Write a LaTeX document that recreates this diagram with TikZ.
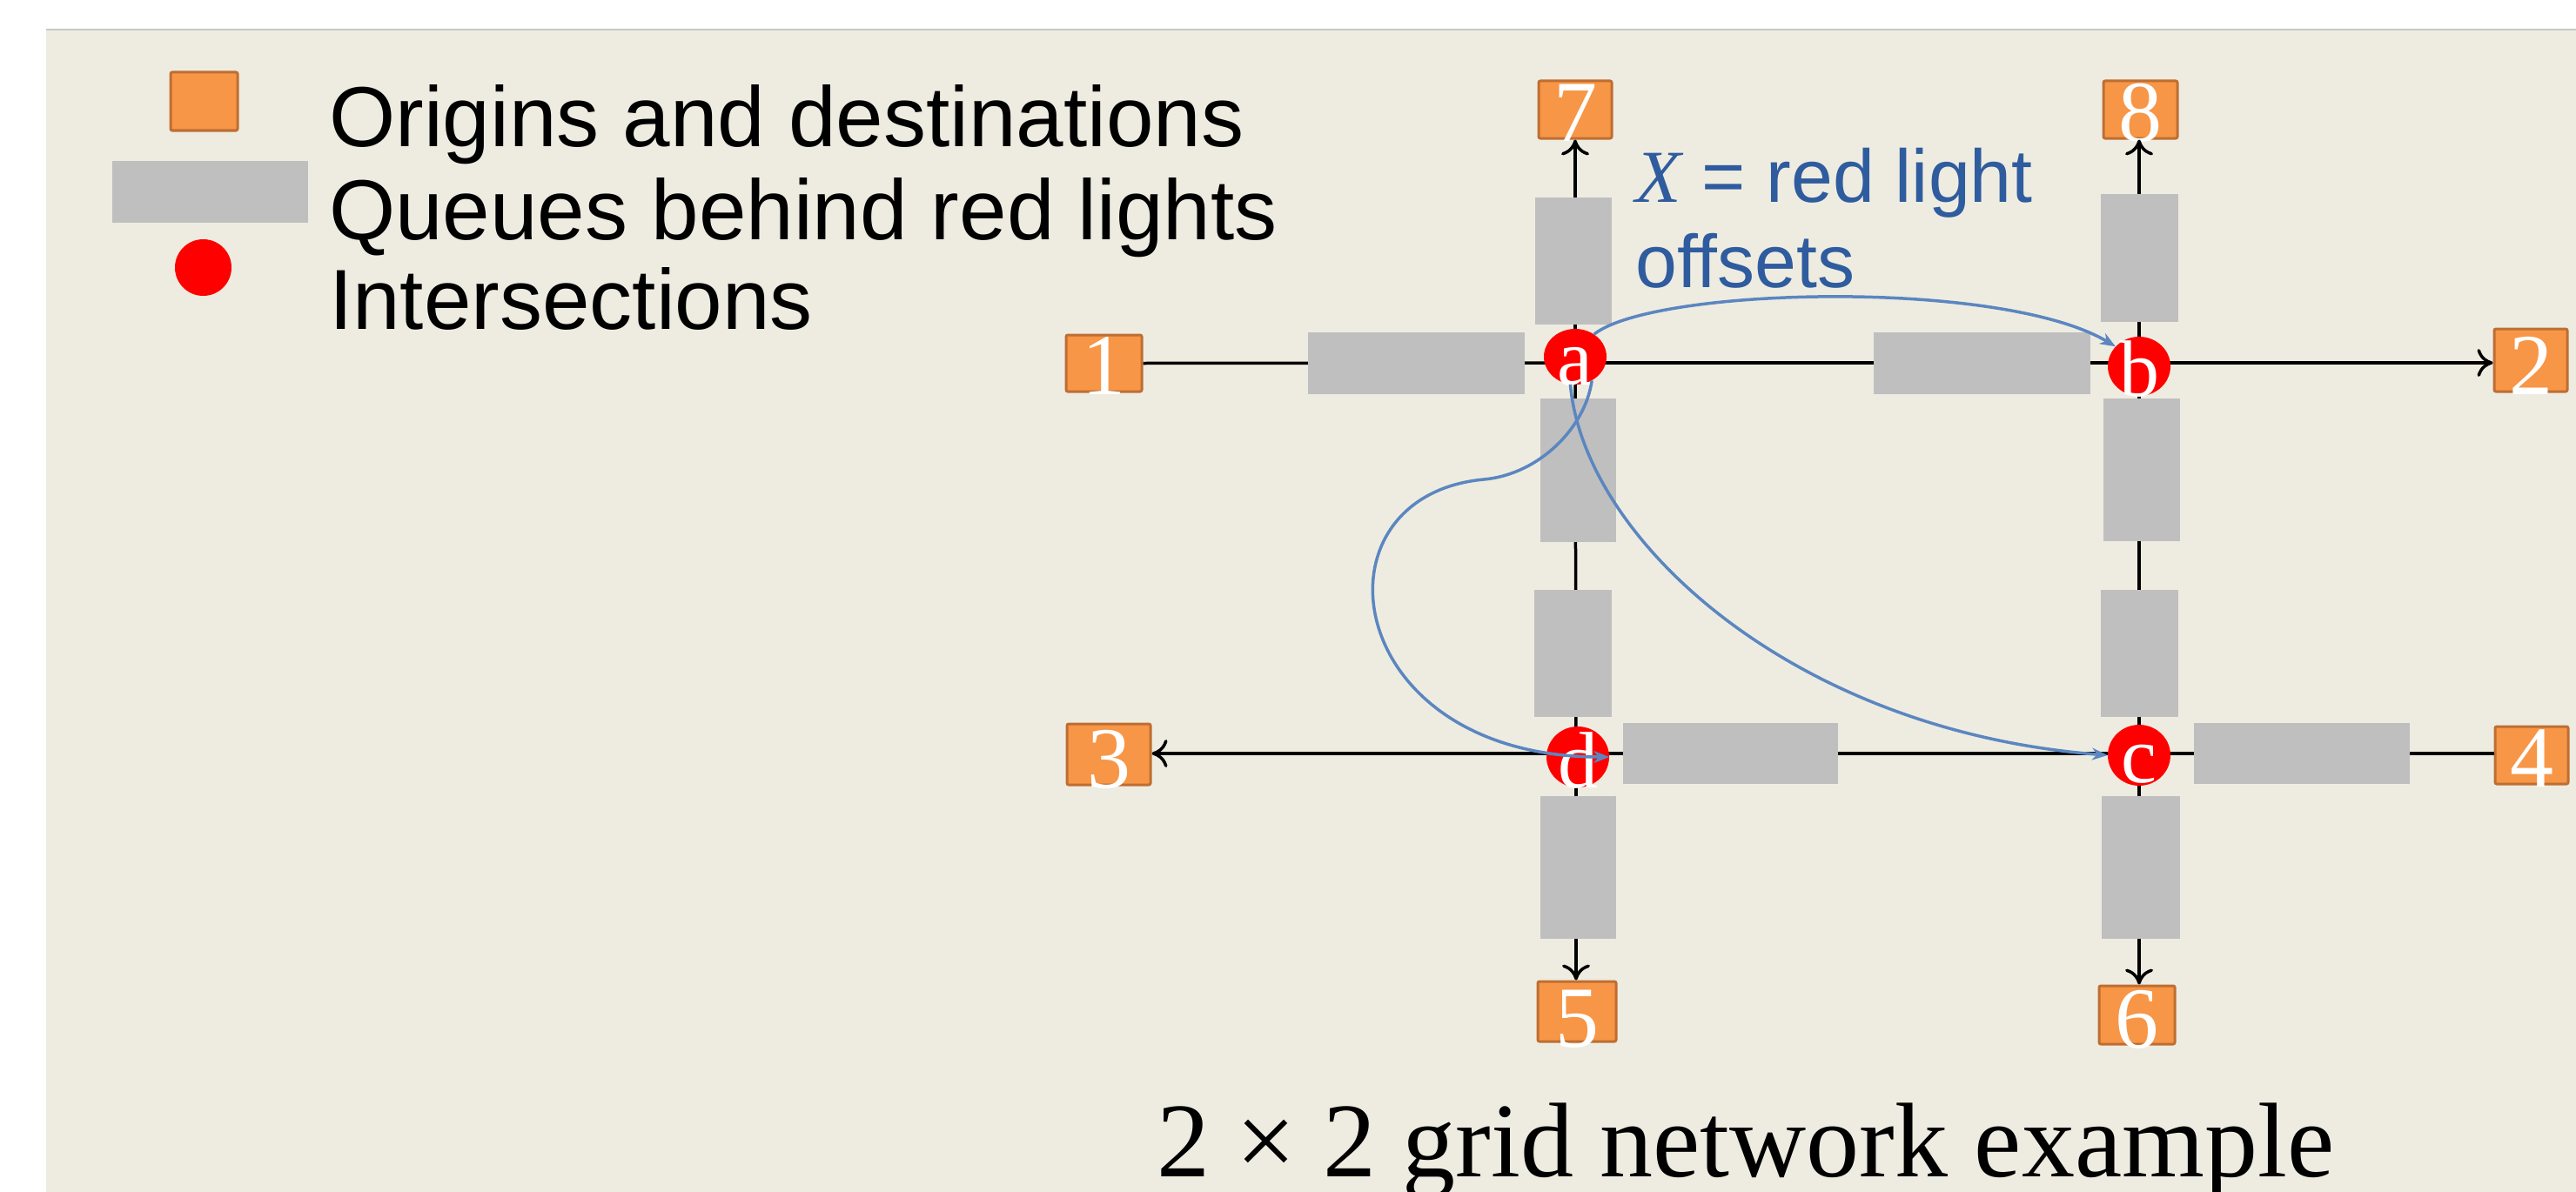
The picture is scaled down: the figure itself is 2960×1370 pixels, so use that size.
\documentclass[tikz,border=0pt]{standalone}
\usepackage{fontspec}
\setmainfont{Liberation Serif}
\newfontfamily\arialf{Liberation Sans}
\usetikzlibrary{shapes.geometric,arrows.meta}
\definecolor{bgbeige}{RGB}{238,236,225}
\definecolor{odorange}{RGB}{247,150,70}
\definecolor{odborder}{RGB}{190,110,50}
\definecolor{queuegray}{RGB}{191,191,191}
\definecolor{isred}{RGB}{255,0,0}
\definecolor{offblue}{RGB}{47,92,158}
\definecolor{curveblue}{RGB}{91,134,192}
\begin{document}
\begin{tikzpicture}[x=1pt,y=-1pt,
  odbox/.style={draw=odborder,fill=odorange,line width=3pt,rounded corners=2pt,inner sep=0pt},
  numlbl/.style={text=white,inner sep=0pt,anchor=base,font=\fontsize{100}{100}\selectfont},
  letlbl/.style={text=white,inner sep=0pt,anchor=base,font=\fontsize{92}{92}\selectfont},
  queue/.style={fill=queuegray,draw=none,inner sep=0pt,rectangle},
  isect/.style={ellipse,fill=isred,draw=none,inner sep=0pt},
  road/.style={draw=black,line width=3.5pt},
  roadarrow/.style={road,-{To[length=18pt,width=32pt,line width=3.5pt]}},
  offs/.style={draw=curveblue,line width=3.5pt,-{Stealth[length=18pt,width=14pt]}},
  legtext/.style={anchor=base west,inner sep=0pt,font=\arialf\fontsize{98}{105}\selectfont},
  bluetext/.style={anchor=base west,inner sep=0pt,text=offblue,font=\arialf\fontsize{86}{98}\selectfont}
]
\useasboundingbox (0,0) rectangle (2960,1370);
% background
\fill[white] (0,0) rectangle (2960,1370);
\fill[bgbeige] (53,34) rectangle (2960,1370);
\draw[black!22,line width=2pt] (53,34) -- (2960,34);

% legend
\node[odbox,minimum width=77pt,minimum height=67pt] (legbox) at (234.5,116.5) {};
\node[queue,minimum width=225pt,minimum height=71pt] (legqueue) at (241.5,220.5) {};
\node[isect,minimum width=65pt,minimum height=65pt] (legint) at (233.5,307.5) {};
\node[legtext] (legt1) at (378,168) {Origins and destinations};
\node[legtext] (legt2) at (378,275) {Queues behind red lights};
\node[legtext] (legt3) at (378,378) {Intersections};

% origin / destination boxes
\node[odbox,minimum width=87pt,minimum height=65pt] (n1) at (1268.5,417.5) {};
\node[odbox,minimum width=84pt,minimum height=72pt] (n2) at (2908,414) {};
\node[odbox,minimum width=96pt,minimum height=70pt] (n3) at (1274,867) {};
\node[odbox,minimum width=84pt,minimum height=66pt] (n4) at (2909,868) {};
\node[odbox,minimum width=90pt,minimum height=69pt] (n5) at (1812,1162.5) {};
\node[odbox,minimum width=87pt,minimum height=67pt] (n6) at (2455.5,1166.5) {};
\node[odbox,minimum width=84pt,minimum height=66pt] (n7) at (1810,126) {};
\node[odbox,minimum width=85pt,minimum height=66pt] (n8) at (2459.5,126) {};
\node[numlbl] (l1) at ([yshift=-2pt]n1.south) {1};
\node[numlbl] (l2) at ([yshift=-2pt]n2.south) {2};
\node[numlbl] (l3) at ([yshift=-2pt]n3.south) {3};
\node[numlbl] (l4) at ([yshift=-2pt]n4.south) {4};
\node[numlbl] (l5) at ([yshift=-5pt]n5.south) {5};
\node[numlbl] (l6) at ([yshift=-3pt]n6.south) {6};
\node[numlbl] (l7) at ([yshift=-2pt]n7.south) {7};
\node[numlbl] (l8) at ([yshift=-2pt]n8.south) {8};

% hubs of the grid
\coordinate (ha) at (1810,417);
\coordinate (hb) at (2458,417);
\coordinate (hc) at (2458,866);
\coordinate (hd) at (1811,866);

% roads
\draw[road] (n1.east) -- (ha);
\draw[road] (ha) -- (hb);
\draw[roadarrow] (hb) -- (hb -| n2.west);
\draw[road] (n4.west |- hc) -- (hc);
\draw[road] (hc) -- (hd);
\draw[roadarrow] (hd) -- (hd -| n3.east);
\draw[roadarrow] (ha) -- (ha |- n7.south);
\draw[roadarrow] (hb) -- (hb |- n8.south);
\draw[roadarrow] (hd) -- (hd |- n5.north);
\draw[roadarrow] (hc) -- (hc |- n6.north);
\draw[road] (ha) -- (hd);
\draw[road] (hb) -- (hc);

% queues
\node[queue,minimum width=249pt,minimum height=71pt] (q1a) at (1627.5,417.5) {};
\node[queue,minimum width=249pt,minimum height=71pt] (qab) at (2277.5,417.5) {};
\node[queue,minimum width=247pt,minimum height=70pt] (qdc) at (1988.5,866) {};
\node[queue,minimum width=248pt,minimum height=70pt] (qc4) at (2645,866) {};
\node[queue,minimum width=88pt,minimum height=146pt] (qa7) at (1808,300) {};
\node[queue,minimum width=87pt,minimum height=165pt] (qad) at (1813.5,540.5) {};
\node[queue,minimum width=89pt,minimum height=146pt] (qda) at (1807.5,751) {};
\node[queue,minimum width=87pt,minimum height=164pt] (qd5) at (1813.5,997) {};
\node[queue,minimum width=89pt,minimum height=147pt] (qb8) at (2458.5,296.5) {};
\node[queue,minimum width=88pt,minimum height=164pt] (qbc) at (2461,540) {};
\node[queue,minimum width=89pt,minimum height=146pt] (qcb) at (2458.5,751) {};
\node[queue,minimum width=90pt,minimum height=164pt] (qc6) at (2460,997) {};

% intersections
\node[isect,minimum width=72pt,minimum height=64pt] (a) at (1810,410) {};
\node[isect,minimum width=72pt,minimum height=68pt] (b) at (2458,421) {};
\node[isect,minimum width=72pt,minimum height=70pt] (c) at (2458,868) {};
\node[isect,minimum width=72pt,minimum height=70pt] (d) at (1813,870) {};
\node[letlbl] (la) at (a.south) {a};
\node[letlbl] (lb) at (b.south) {b};
\node[letlbl] (lc) at ([yshift=4pt]c.south) {c};
\node[letlbl] (ld) at (d.south) {d};

% offsets
\draw[offs] (a.50) .. controls (1900,330) and (2300,320) .. (b.140);
\draw[offs] (a.-55) .. controls (1822,490) and (1770,545) .. (1705,551)
  .. controls (1500,570) and (1540,870) .. (d.east);
\draw[offs] (a.-100) .. controls (1820,620) and (2060,840) .. (c.west);
\node[bluetext] (xt1) at (1879,232) {{\rmfamily\itshape X} = red light};
\node[bluetext] (xt2) at (1879,330) {offsets};

% caption
\node[anchor=base west,inner sep=0pt,font=\fontsize{122}{130}\selectfont] (title) at (1329,1352) {2 × 2 grid network example};
\end{tikzpicture}
\end{document}
